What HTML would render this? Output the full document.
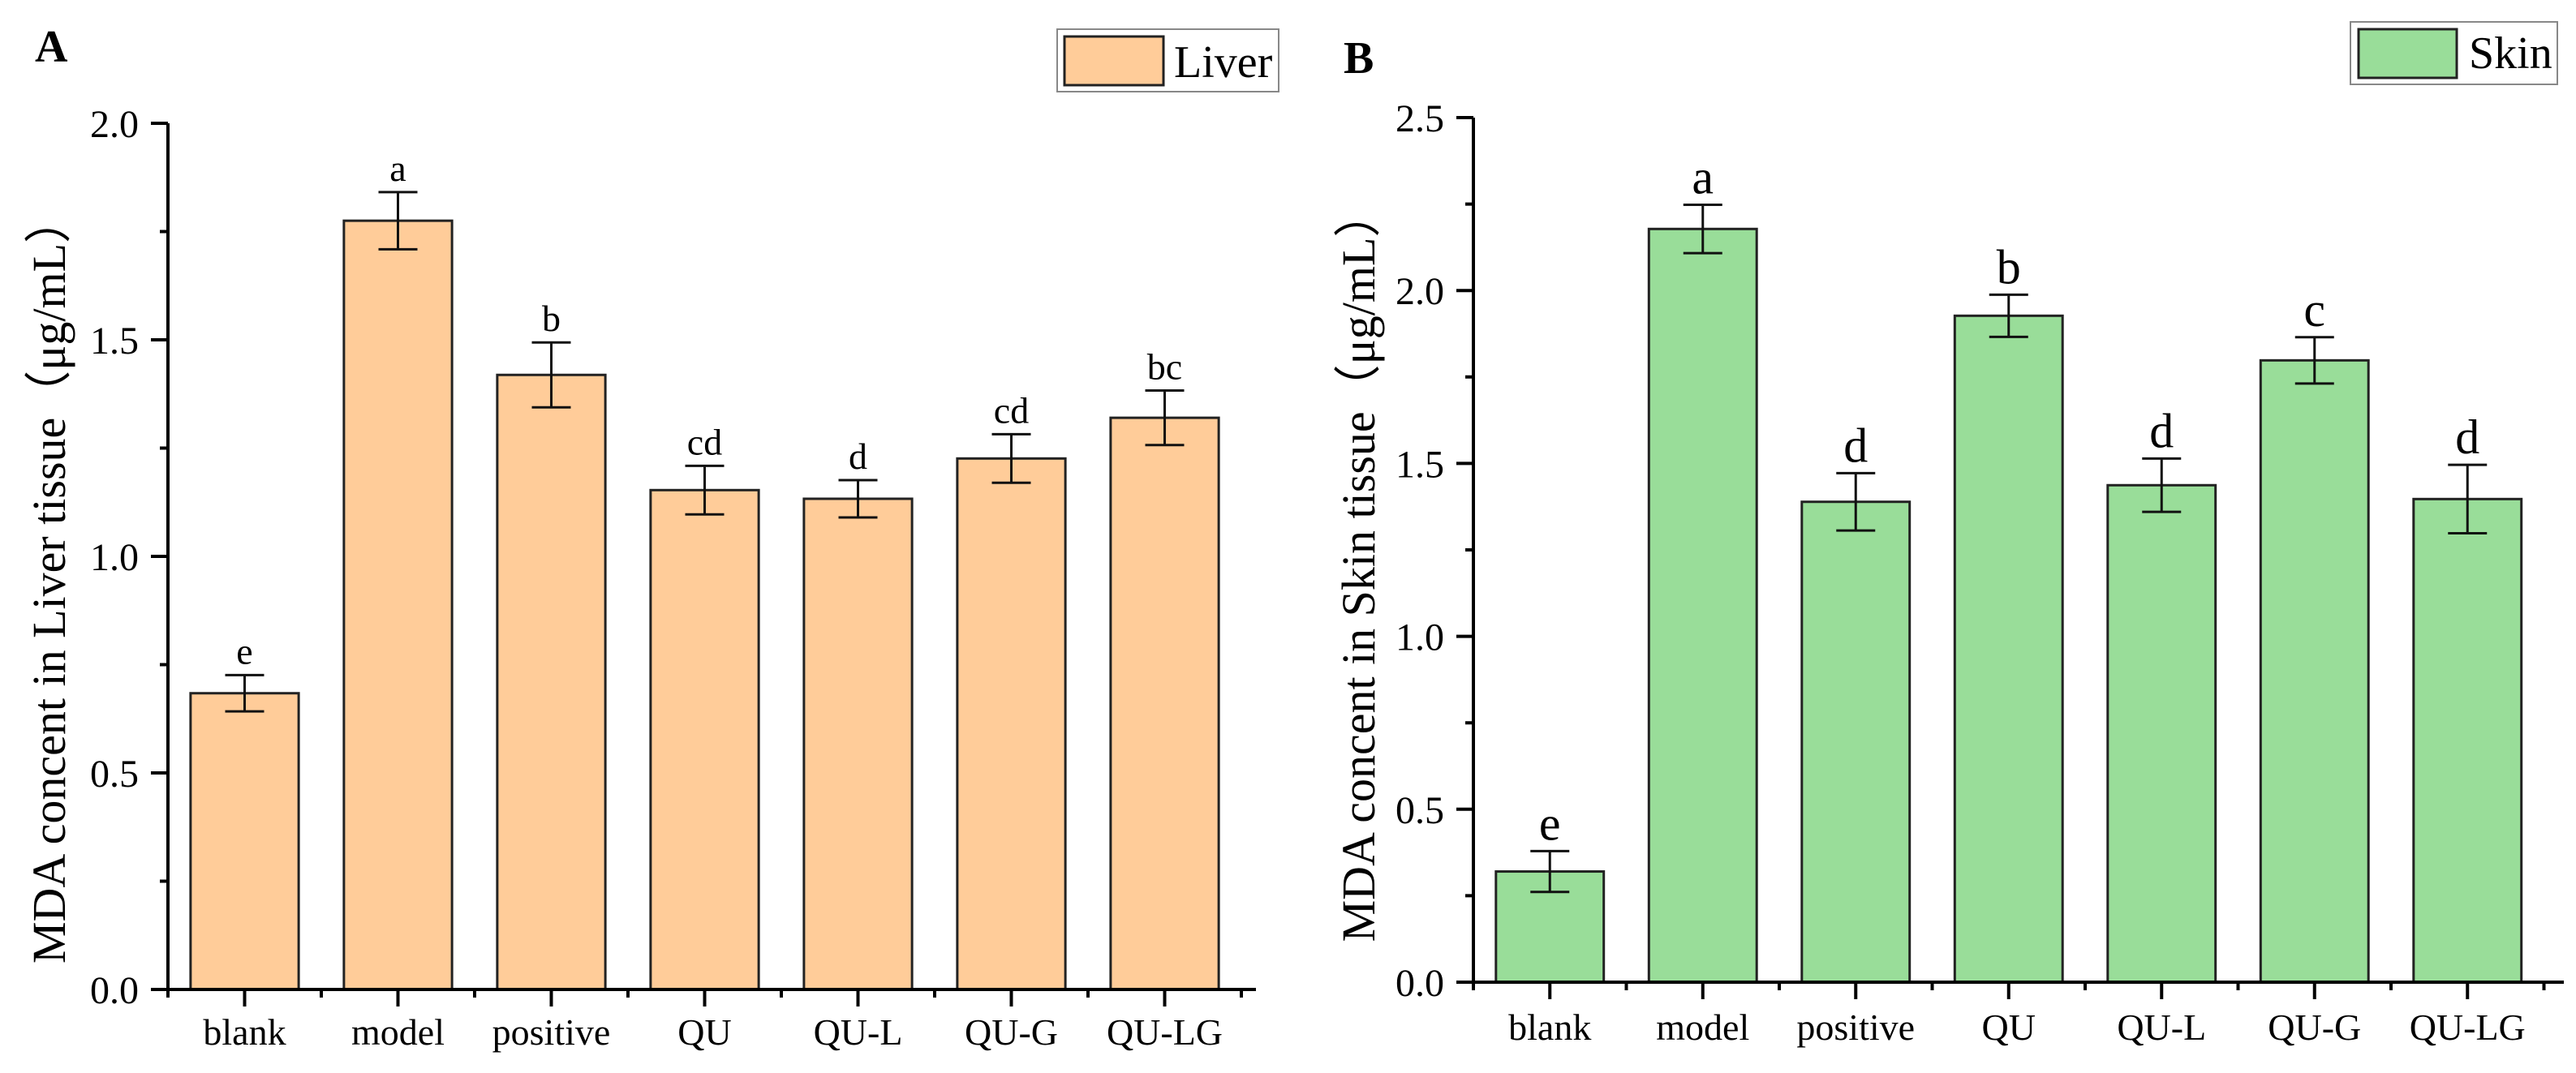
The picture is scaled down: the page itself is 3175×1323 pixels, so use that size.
<!DOCTYPE html>
<html><head><meta charset="utf-8"><style>
html,body{margin:0;padding:0;background:#fff;}
svg{display:block;font-family:"Liberation Serif",serif;}
</style></head><body>
<svg id="chart" width="3175" height="1323" viewBox="0 0 3175 1323" xmlns="http://www.w3.org/2000/svg">
<text x="43" y="76" font-size="56" font-weight="bold">A</text>
<text x="1656" y="90" font-size="56" font-weight="bold">B</text>
<g>
<rect x="1303" y="36" width="273" height="77" fill="#fff" stroke="#888" stroke-width="2"/>
<rect x="1312" y="45" width="122" height="60" fill="#FFCC99" stroke="#222" stroke-width="3"/>
<text x="1447" y="95" font-size="56">Liver</text>
</g>
<g>
<rect x="2897" y="27" width="255" height="77" fill="#fff" stroke="#888" stroke-width="2"/>
<rect x="2907" y="36" width="121" height="60" fill="#99DD99" stroke="#222" stroke-width="3"/>
<text x="3043" y="84" font-size="56">Skin</text>
</g>
<text transform="translate(80,715) rotate(-90)" text-anchor="middle" font-size="58">MDA concent in Liver tissue（μg/mL）</text>
<text transform="translate(1694,698) rotate(-90)" text-anchor="middle" font-size="58">MDA concent in Skin tissue（μg/mL）</text>
</svg>
<script>
const categories = ["blank","model","positive","QU","QU-L","QU-G","QU-LG"];
const liverValues = [0.684,1.775,1.419,1.153,1.133,1.226,1.320];
const liverErrors = [0.042,0.066,0.075,0.056,0.043,0.056,0.063];
const liverLetters = ["e","a","b","cd","d","cd","bc"];
const liverTicks = ["0.0","0.5","1.0","1.5","2.0"];
const skinValues = [0.320,2.178,1.389,1.927,1.437,1.798,1.397];
const skinErrors = [0.059,0.07,0.083,0.061,0.077,0.067,0.099];
const skinLetters = ["e","a","d","b","d","c","d"];
const skinTicks = ["0.0","0.5","1.0","1.5","2.0","2.5"];

const NS = "http://www.w3.org/2000/svg";
const svg = document.getElementById("chart");
function mk(tag, attrs, parent){
  const e = document.createElementNS(NS, tag);
  for (const k in attrs) e.setAttribute(k, attrs[k]);
  (parent||svg).appendChild(e);
  return e;
}
function panel(cfg){
  const g = mk("g", {});
  
  
  const y = v => cfg.y0 - v * cfg.ppu;
  const band = cfg.band;
  const xc = i => cfg.x0 + band * (i + 0.5);
  categories.forEach((c, i) => {
    const v = cfg.values[i], e = cfg.errors[i];
    const bw = band * 0.705;
    const r = mk("rect", {x: xc(i) - bw/2, y: y(v), width: bw, height: cfg.y0 - y(v), fill: cfg.color, stroke: "#222", "stroke-width": 3}, g);
    
    
    const eb = mk("path", {d: `M${xc(i)-24},${y(v+e)}H${xc(i)+24}M${xc(i)},${y(v+e)}V${y(v-e)}M${xc(i)-24},${y(v-e)}H${xc(i)+24}`, stroke: "#111", "stroke-width": 3, fill: "none"}, g);
    
    
    const t = mk("text", {x: xc(i), y: y(v+e) - 14, "text-anchor": "middle", "font-size": cfg.letterSize}, g);
    t.textContent = cfg.letters[i];
    
    
    const cl = mk("text", {x: xc(i), y: cfg.labelY, "text-anchor": "middle", "font-size": 46}, g);
    cl.textContent = c;
    
    
  });
  const top = y(cfg.max);
  const ax = mk("path", {d: `M${cfg.x0},${top}V${cfg.y0}H${cfg.xEnd}`, stroke: "#000", "stroke-width": 4, fill: "none"}, g);
  
  
  let d = "";
  cfg.ticks.forEach((lbl, j) => {
    const v = j * 0.5;
    d += `M${cfg.x0-21},${y(v)}H${cfg.x0}`;
    if (v + 0.25 < cfg.max + 0.01) d += `M${cfg.x0-10},${y(v+0.25)}H${cfg.x0}`;
    const t = mk("text", {x: cfg.x0 - 36, y: y(v) + 17, "text-anchor": "end", "font-size": 48}, g);
    t.textContent = lbl;
    
    
  });
  for (let i = 0; i <= categories.length; i++) {
    d += `M${cfg.x0 + band*i},${cfg.y0}v10`;
    if (i < categories.length) d += `M${xc(i)},${cfg.y0}v21`;
  }
  const tk = mk("path", {d: d, stroke: "#000", "stroke-width": 4, fill: "none"}, g);
  
  
}
panel({name: "liver-chart", x0: 207, y0: 1220, ppu: 534, band: 189, xEnd: 1548, max: 2.0,
  values: liverValues, errors: liverErrors, letters: liverLetters, ticks: liverTicks,
  color: "#FFCC99", letterSize: 46, labelY: 1288});
panel({name: "skin-chart", x0: 1816, y0: 1211, ppu: 426.4, band: 188.5, xEnd: 3160, max: 2.5,
  values: skinValues, errors: skinErrors, letters: skinLetters, ticks: skinTicks,
  color: "#99DD99", letterSize: 60, labelY: 1282});
</script>
</body></html>
